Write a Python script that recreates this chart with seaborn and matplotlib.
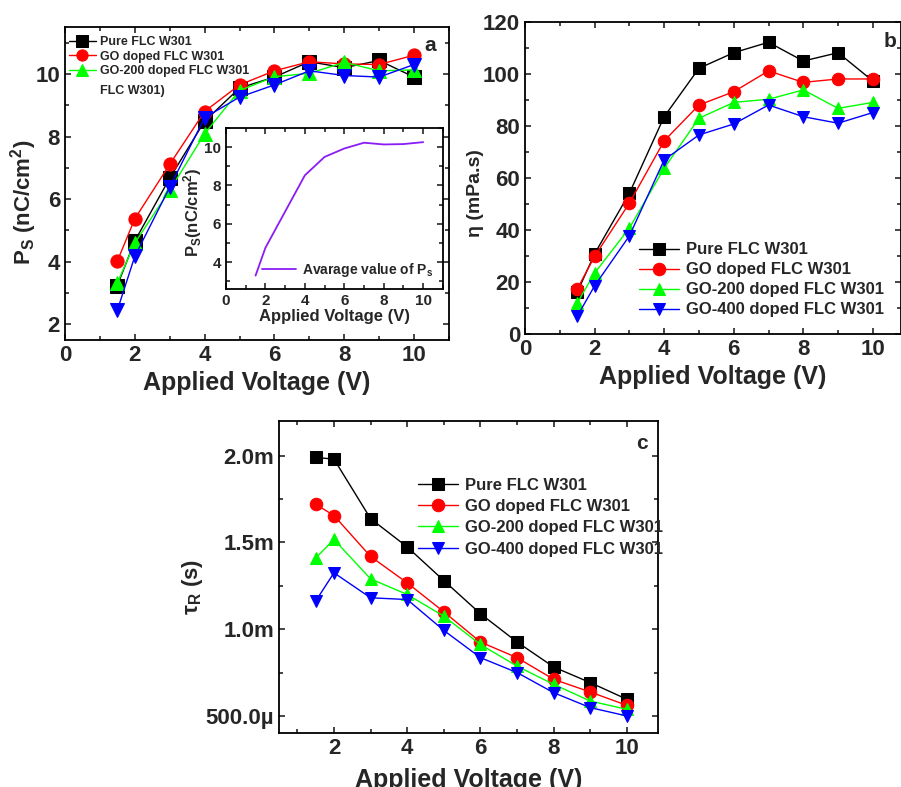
import numpy as np
import pandas as pd
import seaborn as sns
import matplotlib.pyplot as plt
from matplotlib.ticker import MultipleLocator, FuncFormatter

# Данные
voltage = [1.5, 2, 3, 4, 5, 6, 7, 8, 9, 10]
labels = ['Pure FLC W301', 'GO doped FLC W301', 'GO-200 doped FLC W301', 'GO-400 doped FLC W301']

# a) спонтанная поляризация, nC/cm^2
ps_pure = [3.24, 4.66, 6.67, 8.49, 9.55, 9.90, 10.39, 10.20, 10.43, 9.90]
ps_go = [4.02, 5.37, 7.11, 8.80, 9.65, 10.10, 10.39, 10.32, 10.30, 10.60]
ps_go200 = [3.32, 4.60, 6.28, 8.09, 9.47, 9.91, 10.02, 10.37, 10.10, 10.13]
ps_go400 = [2.45, 4.17, 6.38, 8.60, 9.26, 9.65, 10.10, 9.95, 9.90, 10.30]
ps_avg_x = [1.5, 2, 4, 5, 6, 7, 8, 9, 10]
ps_avg = [3.30, 4.75, 8.53, 9.49, 9.93, 10.23, 10.14, 10.16, 10.26]

# b) вязкость, mPa.s
eta_pure = [16.0, 30.8, 54.1, 83.5, 102.1, 108.1, 112.1, 104.9, 108.1, 97.2]
eta_go = [17.3, 29.8, 50.3, 74.2, 88.0, 93.1, 101.1, 96.7, 98.0, 98.0]
eta_go200 = [11.9, 23.4, 40.7, 63.7, 82.9, 89.0, 90.2, 93.8, 86.7, 89.0]
eta_go400 = [6.8, 18.5, 37.7, 66.9, 76.5, 80.7, 88.0, 83.5, 81.0, 85.1]

# c) время отклика, ms
tau_pure = [1.990, 1.980, 1.637, 1.474, 1.280, 1.089, 0.926, 0.782, 0.692, 0.596]
tau_go = [1.720, 1.655, 1.419, 1.267, 1.100, 0.926, 0.836, 0.711, 0.638, 0.561]
tau_go200 = [1.410, 1.517, 1.290, 1.200, 1.075, 0.912, 0.787, 0.682, 0.586, 0.538]
tau_go400 = [1.162, 1.325, 1.181, 1.171, 0.993, 0.836, 0.750, 0.634, 0.548, 0.500]

colors = ['black', '#ff0000', '#00ff00', '#0000ff']
markers = ['s', 'o', '^', 'v']

sns.set_style('ticks')
plt.rcParams['font.family'] = ['Liberation Sans', 'DejaVu Sans']
plt.rcParams['font.weight'] = 'bold'
plt.rcParams['axes.labelweight'] = 'bold'
plt.rcParams['mathtext.default'] = 'regular'
plt.rcParams['axes.linewidth'] = 1.3


def style_axes(ax, tick_size=16):
    ax.tick_params(which='both', direction='in', top=True, right=True, width=1.2,
                   labelsize=tick_size)
    ax.tick_params(which='major', length=4)
    ax.tick_params(which='minor', length=3)
    for s in ax.spines.values():
        s.set_color('black')


def draw_series(ax, series, ms=9):
    for vals, lab, c, m in zip(series, labels, colors, markers):
        sns.lineplot(x=voltage, y=vals, ax=ax, color=c, marker=m, markersize=ms,
                     markeredgecolor=c, linewidth=1, label=lab, sort=False)


fig = plt.figure(figsize=(9.01, 7.87), dpi=100)

# ---- a ----
ax_a = fig.add_axes([0.0721, 0.568, 0.4262, 0.3977])
draw_series(ax_a, [ps_pure, ps_go, ps_go200, ps_go400], ms=9.5)
ax_a.set_xlim(0, 11)
ax_a.set_ylim(1.5, 11.5)
ax_a.xaxis.set_major_locator(MultipleLocator(2))
ax_a.xaxis.set_minor_locator(MultipleLocator(1))
ax_a.yaxis.set_major_locator(MultipleLocator(2))
ax_a.yaxis.set_minor_locator(MultipleLocator(1))
style_axes(ax_a)
ax_a.set_xlabel('Applied Voltage (V)', fontsize=18)
ax_a.set_ylabel('P$_S$ (nC/cm$^2$)', fontsize=16)
ax_a.yaxis.set_label_coords(-0.068, 0.44)
h, l = ax_a.get_legend_handles_labels()
ax_a.legend(h[:3], l[:3], loc='upper left', bbox_to_anchor=(-0.01, 0.995), frameon=False,
            fontsize=9, handlelength=2.2, handletextpad=0.3, labelspacing=0.2,
            borderaxespad=0.2, markerscale=0.85)
ax_a.text(0.091, 0.795, 'FLC W301)', transform=ax_a.transAxes, fontsize=9, va='center')
ax_a.text(0.95, 0.94, 'a', transform=ax_a.transAxes, fontsize=15, ha='center', va='center')

# вставка: среднее значение
ax_in = fig.add_axes([0.2508, 0.6328, 0.2408, 0.2046])
sns.lineplot(x=ps_avg_x, y=ps_avg, ax=ax_in, color='#8b1cf5', linewidth=1.3,
             label='Avarage value of P$_s$')
ax_in.set_xlim(0, 11)
ax_in.set_ylim(2.6, 11)
ax_in.xaxis.set_major_locator(MultipleLocator(2))
ax_in.xaxis.set_minor_locator(MultipleLocator(1))
ax_in.yaxis.set_major_locator(MultipleLocator(2))
ax_in.yaxis.set_minor_locator(MultipleLocator(1))
style_axes(ax_in, tick_size=11)
ax_in.set_xlabel('Applied Voltage (V)', fontsize=12, labelpad=1)
ax_in.set_ylabel('P$_S$(nC/cm$^2$)', fontsize=12)
ax_in.yaxis.set_label_coords(-0.10, 0.48)
ax_in.legend(loc='lower right', frameon=False, fontsize=10, handlelength=2.5,
             handletextpad=0.4, borderaxespad=0.3)

# ---- b ----
ax_b = fig.add_axes([0.5827, 0.5756, 0.417, 0.3968])
draw_series(ax_b, [eta_pure, eta_go, eta_go200, eta_go400])
ax_b.set_xlim(0, 10.8)
ax_b.set_ylim(0, 120)
ax_b.xaxis.set_major_locator(MultipleLocator(2))
ax_b.xaxis.set_minor_locator(MultipleLocator(1))
ax_b.yaxis.set_major_locator(MultipleLocator(20))
ax_b.yaxis.set_minor_locator(MultipleLocator(10))
style_axes(ax_b)
ax_b.set_xlabel('Applied Voltage (V)', fontsize=18)
ax_b.set_ylabel('η (mPa.s)', fontsize=14)
ax_b.yaxis.set_label_coords(-0.108, 0.45)
ax_b.legend(loc='lower right', frameon=False, fontsize=12, handlelength=2.4,
            handletextpad=0.4, labelspacing=0.3, borderaxespad=0.6)
ax_b.text(0.971, 0.936, 'b', transform=ax_b.transAxes, fontsize=15, ha='center', va='center')

# ---- c ----
ax_c = fig.add_axes([0.3097, 0.0682, 0.4207, 0.3969])
draw_series(ax_c, [tau_pure, tau_go, tau_go200, tau_go400])
ax_c.set_xlim(0.5, 10.85)
ax_c.set_ylim(0.4, 2.2)
ax_c.xaxis.set_major_locator(MultipleLocator(2))
ax_c.xaxis.set_minor_locator(MultipleLocator(1))
ax_c.yaxis.set_major_locator(MultipleLocator(0.5))
ax_c.yaxis.set_minor_locator(MultipleLocator(0.25))
ax_c.yaxis.set_major_formatter(FuncFormatter(
    lambda v, p: f'{v:.1f}m' if v >= 1 else f'{v * 1000:.1f}µ'))
style_axes(ax_c)
ax_c.set_xlabel('Applied Voltage (V)', fontsize=18, labelpad=6)
ax_c.set_ylabel('τ$_R$ (s)', fontsize=16)
ax_c.yaxis.set_label_coords(-0.195, 0.47)
ax_c.legend(loc='upper left', bbox_to_anchor=(0.35, 0.84), frameon=False, fontsize=12,
            handlelength=2.4, handletextpad=0.4, labelspacing=0.38, borderaxespad=0)
ax_c.text(0.957, 0.929, 'c', transform=ax_c.transAxes, fontsize=15, ha='center', va='center')

fig.savefig('out.png', dpi=100)
